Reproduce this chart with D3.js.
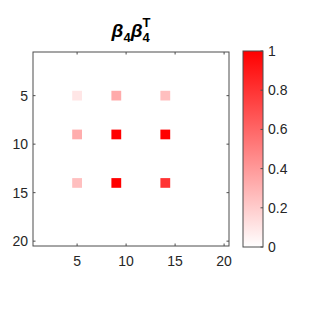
<!DOCTYPE html>
<html><head><meta charset="utf-8">
<script src="https://cdn.jsdelivr.net/npm/d3@7"></script>
<style>body{margin:0;background:#fff}svg{display:block}text{font-family:"Liberation Sans",Arial,sans-serif}</style>
</head><body><div id="c"></div>
<script>
// Nonzero entries of beta4 * beta4^T (row index, column index, value)
const indices = [5, 9, 14];
const rowAt5 = [0.10, 0.33, 0.25];
const rowAt9 = [0.32, 1.00, 1.00];
const rowAt14 = [0.25, 1.00, 0.80];
const axisTicks = [5, 10, 15, 20];
const cbTicks = [0, 0.2, 0.4, 0.6, 0.8, 1];
const cbTickLabels = ["0", "0.2", "0.4", "0.6", "0.8", "1"];
const n = 20;

const W = 310, H = 310;
const svg = d3.select("#c").append("svg").attr("width", W).attr("height", H);
const L = 33, R = 229, T = 52, B = 246;
const x = d3.scaleLinear().domain([0.5, n + 0.5]).range([L, R]);
const y = d3.scaleLinear().domain([0.5, n + 0.5]).range([T, B]);
const color = d3.scaleLinear().domain([0, 1]).range(["#ffffff", "#ff0000"]);

const rows = [rowAt5, rowAt9, rowAt14];
const cells = [];
rows.forEach((r, i) => r.forEach((v, j) => cells.push({r: indices[i], c: indices[j], v})));

svg.append("rect").attr("x", L).attr("y", T).attr("width", R - L).attr("height", B - T).attr("fill", "#fff");
svg.selectAll("rect.cell").data(cells).enter().append("rect")
  .attr("x", d => x(d.c - 0.5)).attr("y", d => y(d.r - 0.5))
  .attr("width", x(1.5) - x(0.5)).attr("height", y(1.5) - y(0.5))
  .attr("fill", d => color(d.v));

const ac = "#4d4d4d";
const g = svg.append("g");
g.append("rect").attr("x", L).attr("y", T).attr("width", R - L).attr("height", B - T)
  .attr("fill", "none").attr("stroke", ac).attr("stroke-width", 1);
const tl = 2.5;
axisTicks.forEach(t => {
  g.append("line").attr("x1", x(t)).attr("x2", x(t)).attr("y1", B).attr("y2", B - tl).attr("stroke", ac);
  g.append("line").attr("x1", x(t)).attr("x2", x(t)).attr("y1", T).attr("y2", T + tl).attr("stroke", ac);
  g.append("line").attr("y1", y(t)).attr("y2", y(t)).attr("x1", L).attr("x2", L + tl).attr("stroke", ac);
  g.append("line").attr("y1", y(t)).attr("y2", y(t)).attr("x1", R).attr("x2", R - tl).attr("stroke", ac);
  g.append("text").attr("x", x(t)).attr("y", B + 20).attr("text-anchor", "middle")
    .attr("font-size", 14).attr("fill", "#262626").text(t);
  g.append("text").attr("x", L - 5).attr("y", y(t) + 5).attr("text-anchor", "end")
    .attr("font-size", 14).attr("fill", "#262626").text(t);
});

// Title built from separate pieces (beta, subscript, superscript)
const tg = svg.append("g").attr("font-weight", "bold").attr("fill", "#000");
const base = 37;
const pieces = [
  {t: "β", size: 19, italic: true, dy: 0},
  {t: "4", size: 13, italic: false, dy: 5},
  {t: "β", size: 19, italic: true, dy: 0},
  {t: "4", size: 13, italic: false, dy: 5, keep: true},
  {t: "T", size: 13, italic: false, dy: -10}
];
let cx = 0, lastX = 0;
pieces.forEach(p => {
  const px = p.t === "T" ? lastX : cx;
  const el = tg.append("text").attr("x", px).attr("y", base + p.dy)
    .attr("font-size", p.size).attr("font-style", p.italic ? "italic" : "normal").text(p.t);
  const w = el.node().getComputedTextLength();
  if (p.t !== "T") { lastX = cx; cx += w; } else { cx = Math.max(cx, px + w); }
});
tg.attr("transform", `translate(${(L + R) / 2 - cx / 2},0)`);

// Colorbar
const cbL = 243, cbR = 263, cbT = 51, cbB = 247;
const cy = d3.scaleLinear().domain([0, 1]).range([cbB, cbT]);
const defs = svg.append("defs");
const grad = defs.append("linearGradient").attr("id", "cbg").attr("x1", 0).attr("y1", 1).attr("x2", 0).attr("y2", 0);
grad.append("stop").attr("offset", "0%").attr("stop-color", color(0));
grad.append("stop").attr("offset", "100%").attr("stop-color", color(1));
svg.append("rect").attr("x", cbL).attr("y", cbT).attr("width", cbR - cbL).attr("height", cbB - cbT)
  .attr("fill", "url(#cbg)").attr("stroke", ac).attr("stroke-width", 1);
cbTicks.forEach((t, i) => {
  svg.append("line").attr("x1", cbR).attr("x2", cbR - 2.5).attr("y1", cy(t)).attr("y2", cy(t)).attr("stroke", ac);
  svg.append("text").attr("x", cbR + 5).attr("y", cy(t) + 5).attr("font-size", 14).attr("fill", "#262626")
    .text(cbTickLabels[i]);
});
</script></body></html>
